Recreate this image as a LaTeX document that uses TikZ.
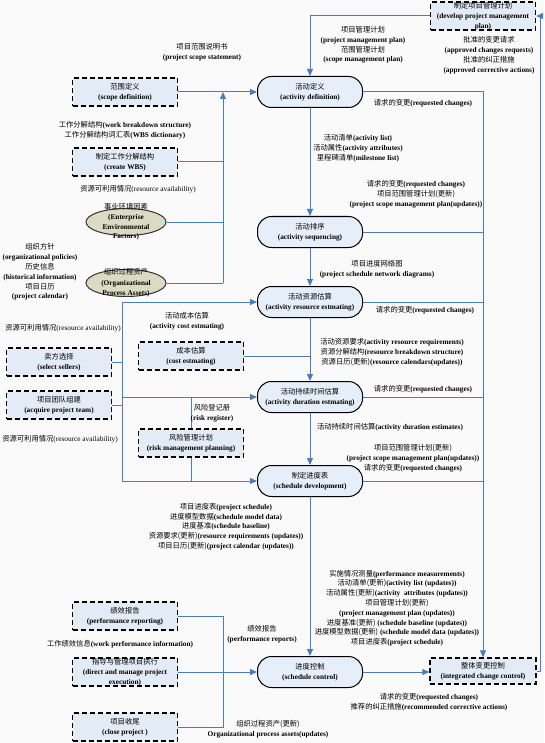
\documentclass[tikz,border=0pt]{standalone}
\usepackage{fontspec}
\setmainfont{Liberation Serif}
\newfontfamily\cjk{Noto Sans CJK SC}
\newcommand\zh[1]{{\cjk\mdseries #1}}
\usetikzlibrary{arrows.meta,shapes.geometric}
\definecolor{lnblue}{HTML}{4A7EBB}
\definecolor{boxfill}{HTML}{E3EBF6}
\definecolor{procfill}{HTML}{E6EEF9}
\definecolor{ellfill}{HTML}{D9DBC2}
\definecolor{bgc}{HTML}{FAFAFA}
\begin{document}
\begin{tikzpicture}[x=1pt,y=-1pt,
  every node/.style={font=\fontsize{7.3}{9.8}\selectfont\bfseries, align=center, inner sep=0pt},
  proc/.style={draw=black, line width=1pt, fill=procfill, rounded corners=14pt, minimum width=105pt, minimum height=31pt},
  extbox/.style={draw=black, line width=1.3pt, dash pattern=on 5pt off 3pt, fill=boxfill, minimum width=105pt, minimum height=28pt},
  ell/.style={ellipse, draw=black!80, line width=1pt, fill=ellfill, minimum width=80pt, minimum height=27pt},
  conn/.style={draw=lnblue, line width=1pt},
  arr/.style={conn, -{Triangle[length=7pt,width=6pt]}}]
\fill[bgc] (0,0) rectangle (544,743);
\useasboundingbox (0,0) rectangle (544,743);

% main process nodes
\node[proc] (ad)  at (310,92)  {\zh{活动定义}\\(activity definition)};
\node[proc] (as)  at (310,232) {\zh{活动排序}\\(activity sequencing)};
\node[proc] (ar)  at (310,302) {\zh{活动资源估算}\\(activity resource estmating)};
\node[proc] (adu) at (310,397) {\zh{活动持续时间估算}\\(activity duration estmating)};
\node[proc] (sd)  at (310,481) {\zh{制定进度表}\\(schedule development)};
\node[proc] (sc)  at (310,672) {\zh{进度控制}\\(schedule control)};

% external dashed boxes
\node[extbox] (dpm) at (483,16)  {\zh{制定项目管理计划}\\(develop project management\\plan)};
\node[extbox] (sdf) at (125,92)  {\zh{范围定义}\\(scope definition)};
\node[extbox] (wbs) at (125,162) {\zh{制定工作分解结构}\\(create WBS)};
\node[extbox] (ss)  at (59,362)  {\zh{卖方选择}\\(select sellers)};
\node[extbox] (apt) at (59,405)  {\zh{项目团队组建}\\(acquire project team)};
\node[extbox] (ce)  at (191,356) {\zh{成本估算}\\(cost estmating)};
\node[extbox] (rmp) at (191,443) {\zh{风险管理计划}\\(risk management planning)};
\node[extbox] (pr)  at (125,616) {\zh{绩效报告}\\(performance reporting)};
\node[extbox] (dm)  at (125,672) {\zh{指导与管理项目执行}\\(direct and manage project\\execution)};
\node[extbox] (cp)  at (125,727) {\zh{项目收尾}\\(close project )};
\node[extbox, minimum width=106pt, minimum height=26pt] (icc) at (483,671) {\zh{整体变更控制}\\(integrated change control)};

% ellipses
\node[ell] (eef) at (126,222) {};
\node[font=\fontsize{7.3}{9.6}\selectfont\bfseries] (eeft) at (eef) {\zh{事业环境因素}\\(Enterprise\\Environmental\\Factors)};
\node[ell] (opa) at (126,283) {};
\node[font=\fontsize{7.3}{10.5}\selectfont\bfseries] (opat) at (opa) {\zh{组织过程资产}\\(Organizational\\Process Assets)};

% helper coordinates
\coordinate (rx) at (540,0);
\coordinate (lx) at (122,0);
\coordinate (mx) at (223,0);

% main column
\draw[arr] (ad.south) -- (as.north);
\draw[arr] (as.south) -- (ar.north);
\draw[arr] (ar.south) -- (adu.north);
\draw[arr] (adu.south) -- (sd.north);
\draw[arr] (sd.south) -- (sc.north);
\draw[arr] (sc.east) -- (sc.east -| icc.west);

% top / right loop
\draw[arr] (dpm.west) -| (ad.north);
\draw[arr] (ad.east) -| (icc.north);
\draw[conn] (as.east) -- (as.east -| icc.north);
\draw[conn] (ar.east) -- (ar.east -| icc.north);
\draw[conn] (adu.east) -- (adu.east -| icc.north);
\draw[conn] (sd.east) -- (sd.east -| icc.north);
\draw[arr] (icc.east) -- (icc.east -| rx) -- (dpm.east -| rx) -- (dpm.east);

% upper left inputs
\draw[arr] (sdf.east) -- (sdf.east -| ad.west);
\draw[conn] (wbs.east) -- (wbs.east -| mx);
\draw[conn] (eef.east) -- (eef.east -| mx);
\draw[conn] (opa.east) -- (opa.east -| mx);
\draw[arr] (opa.east -| mx) -- (sdf.east -| mx);

% middle left inputs
\draw[arr] (ar.west -| lx) -- (ar.west);
\draw[conn] (ar.west -| lx) -- (sd.west -| lx);
\draw[arr] (adu.west -| lx) -- (adu.west);
\draw[arr] (sd.west -| lx) -- (sd.west);
\draw[conn] (ss.east) -- (ss.east -| lx);
\draw[conn] (apt.east) -- (apt.east -| lx);
\draw[conn] (ce.east) -- (ce.east -| ad.south);
\draw[conn] (rmp.north) -- (rmp.north |- adu.west);
\draw[conn] (rmp.south) -- (rmp.south |- sd.west);

% lower left inputs
\draw[conn] (pr.east) -- (pr.east -| mx) -- (cp.east -| mx) -- (cp.east);
\draw[arr] (dm.east) -- (dm.east -| sc.west);

% labels
\node (l1) at (202,52) {\zh{项目范围说明书}\\(project scope statement)};
\node (l2) at (125,130) {\zh{工作分解结构}(work breakdown structure)\\\zh{工作分解结构词汇表}(WBS dictionary)};
\node[font=\fontsize{7.3}{9.8}\selectfont] (l3) at (138,189) {\zh{资源可利用情况}(resource availability)};
\node (l4) at (40,272) {\zh{组织方针}\\(organizational policies)\\\zh{历史信息}\\(historical information)\\\zh{项目日历}\\(project calendar)};
\node[font=\fontsize{7.3}{9.8}\selectfont] (l5) at (63,328) {\zh{资源可利用情况}(resource availability)};
\node (l6) at (187,321) {\zh{活动成本估算}\\(activity cost estmating)};
\node[font=\fontsize{7.3}{9.8}\selectfont] (l7) at (60,439) {\zh{资源可利用情况}(resource availability)};
\node (l8) at (212,413) {\zh{风险登记册}\\(risk register)};
\node (l9) at (226,526.5) {\zh{项目进度表}(project schedule)\\\zh{进度模型数据}(schedule model data)\\\zh{进度基准}(schedule baseline)\\\zh{资源要求(更新)}(resource requirements (updates))\\\zh{项目日历(更新)}(project calendar (updates))};
\node (l10) at (120,644) {\zh{工作绩效信息}(work performance information)};
\node (l11) at (262,634) {\zh{绩效报告}\\(performance reports)};
\node (l12) at (268,729) {\zh{组织过程资产(更新)}\\Organizational process assets(updates)};
\node (l13) at (363,45) {\zh{项目管理计划}\\(project management plan)\\\zh{范围管理计划}\\(scope management plan)};
\node (l14) at (489,55) {\zh{批准的变更请求}\\(approved changes requests)\\\zh{批准的纠正措施}\\(approved corrective actions)};
\node (l15) at (423,103) {\zh{请求的变更}(requested changes)};
\node (l16) at (358,148) {\zh{活动清单}(activity list)\\\zh{活动属性}(activity attributes)\\\zh{里程碑清单}(milestone list)};
\node (l17) at (416,194) {\zh{请求的变更}(requested changes)\\\zh{项目范围管理计划(更新)}\\(project scope management plan(updates))};
\node (l18) at (377,269.5) {\zh{项目进度网络图}\\(project schedule network diagrams)};
\node (l19) at (425,310) {\zh{请求的变更}(requested changes)};
\node (l20) at (392,352) {\zh{活动资源要求}(activity resource requirements)\\\zh{资源分解结构}(resource breakdown structure)\\\zh{资源日历(更新)}(resource calendars(updates))};
\node (l21) at (423,389) {\zh{请求的变更}(requested changes)};
\node (l22) at (390,427) {\zh{活动持续时间估算}(activity duration estimates)};
\node (l23) at (413,458) {\zh{项目范围管理计划(更新)}\\(project scope management plan(updates))\\\zh{请求的变更}(requested changes)};
\node (l24) at (397,608) {\zh{实施情况测量}(performance measurements)\\\zh{活动清单(更新)}(activity list (updates))\\\zh{活动属性(更新)}(activity\ \ attributes (updates))\\\zh{项目管理计划(更新)}\\(project management plan (updates))\\\zh{进度基准(更新)} (schedule baseline (updates))\\\zh{进度模型数据(更新)} (schedule model data (updates))\\\zh{项目进度表}(project schedule)};
\node (l25) at (429,702) {\zh{请求的变更}(requested changes)\\\zh{推荐的纠正措施}(recommended corrective actions)};
\end{tikzpicture}
\end{document}
